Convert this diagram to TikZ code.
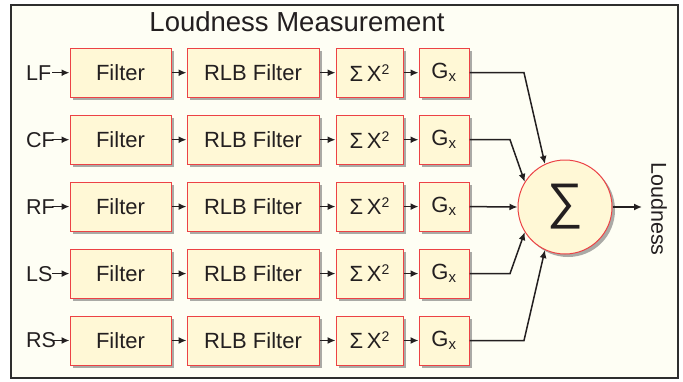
\documentclass[tikz,border=0pt]{standalone}
\usepackage{fontspec}
\setmainfont{Liberation Sans}
\usetikzlibrary{shadows,arrows.meta}
\definecolor{txt}{HTML}{231F20}
\definecolor{boxfill}{HTML}{FFF8D6}
\definecolor{boxline}{HTML}{EC4245}
\definecolor{bg}{HTML}{FEFEF4}
\definecolor{frame}{HTML}{2E2E2E}
\tikzset{
  blk/.style={draw=boxline, line width=1pt, fill=boxfill, minimum height=49pt,
    inner sep=0pt, text=txt, font=\fontsize{22}{24}\selectfont,
    drop shadow={shadow xshift=3pt, shadow yshift=-3pt, fill=black!55, opacity=0.6}},
  lab/.style={inner sep=0pt, text=txt, font=\fontsize{21.5}{24}\selectfont},
  conn/.style={line width=1.5pt, draw=txt, -{Latex[length=8pt,width=7pt]}},
}
\begin{document}
\begin{tikzpicture}[x=1pt,y=-1pt]
\useasboundingbox (0,0) rectangle (683,381);
\draw[frame, line width=2pt, fill=bg] (11,5) rectangle (678,378);
\node[lab, font=\fontsize{27.5}{30}\selectfont] (title) at (297,22) {Loudness Measurement};
\foreach \i/\n/\y in {1/LF/72.7,2/CF/139.7,3/RF/206.6,4/LS/273.6,5/RS/340.5}{
  \node[lab, anchor=west] (l\i) at (26,\y) {\n};
  \coordinate (in\i) at (52,\y);
  \node[blk, minimum width=101pt] (f\i) at (120.5,\y) {Filter};
  \node[blk, minimum width=132pt] (r\i) at (253,\y) {RLB Filter};
  \node[blk, minimum width=67pt] (s\i) at (369.5,\y) {Σ\,X\raisebox{7pt}{\fontsize{14}{14}\selectfont 2}};
  \node[blk, minimum width=50pt] (g\i) at (444,\y) {G\textsubscript{\fontsize{15}{15}\selectfont x}};
  \draw[conn] (in\i) -- (f\i.west);
  \draw[conn] (f\i.east) -- (r\i.west);
  \draw[conn] (r\i.east) -- (s\i.west);
  \draw[conn] (s\i.east) -- (g\i.west);
}
\node[circle, draw=boxline, line width=1pt, fill=boxfill, minimum size=94pt, inner sep=0pt,
  text=txt, font=\fontsize{50}{50}\selectfont,
  drop shadow={shadow xshift=3pt, shadow yshift=-3pt, fill=black!55, opacity=0.6}] (sum) at (565,207) {∑};
\coordinate (out) at (642,207);
\node[lab, rotate=-90] (loud) at (659,209) {Loudness};
\draw[conn] (g1.east) -- (524,72.7) -- (sum.115);
\draw[conn] (g2.east) -- (510,139.7) -- (sum.148);
\draw[conn] (g3.east) -- (sum.west);
\draw[conn] (g4.east) -- (510,273.6) -- (sum.212);
\draw[conn] (g5.east) -- (524,340.5) -- (sum.245);
\draw[conn] (sum.east) -- (out);
\end{tikzpicture}
\end{document}
